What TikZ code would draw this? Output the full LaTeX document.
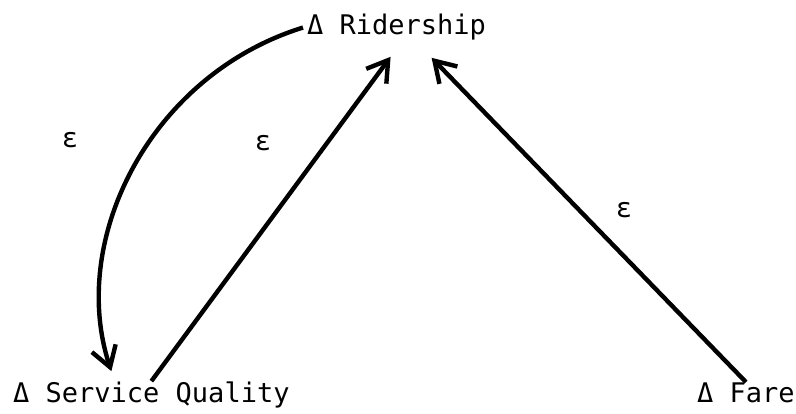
\documentclass[tikz,border=0pt]{standalone}
\usepackage{fontspec}
\setmainfont{DejaVu Sans Mono}
\usetikzlibrary{arrows.meta, positioning}

\begin{document}
\begin{tikzpicture}[
    x=1pt, y=1pt,
    var/.style={inner sep=0pt, font=\fontsize{27}{30}\selectfont},
    elas/.style={inner sep=0pt, font=\fontsize{27}{30}\selectfont},
    arrow/.style={-{Straight Barb[length=20pt, width=25pt]}, line width=4.4pt}
]
    \useasboundingbox (0,0) rectangle (796,413);

    % Variables
    \node[var, anchor=base west] (rider) at (307,378) {Δ Ridership};
    \node[var, anchor=base west] (quality) at (13,11) {Δ Service Quality};
    \node[var, anchor=base west] (fare) at (697,11) {Δ Fare};

    % Elasticities
    \node[elas] (e1) at (70,273) {ε};
    \node[elas] (e2) at (263,270) {ε};
    \node[elas] (e3) at (624,203) {ε};

    % Arrows
    \draw[arrow] ([xshift=-4pt]rider.west) .. controls (150,338) and (68,173) .. ([shift={(-40pt,10pt)}]quality.north);
    \draw[arrow] (quality.north) -- ([shift={(-6pt,-16pt)}]rider.south);
    \draw[arrow] (fare.north) -- ([shift={(35pt,-17pt)}]rider.south);
\end{tikzpicture}
\end{document}
